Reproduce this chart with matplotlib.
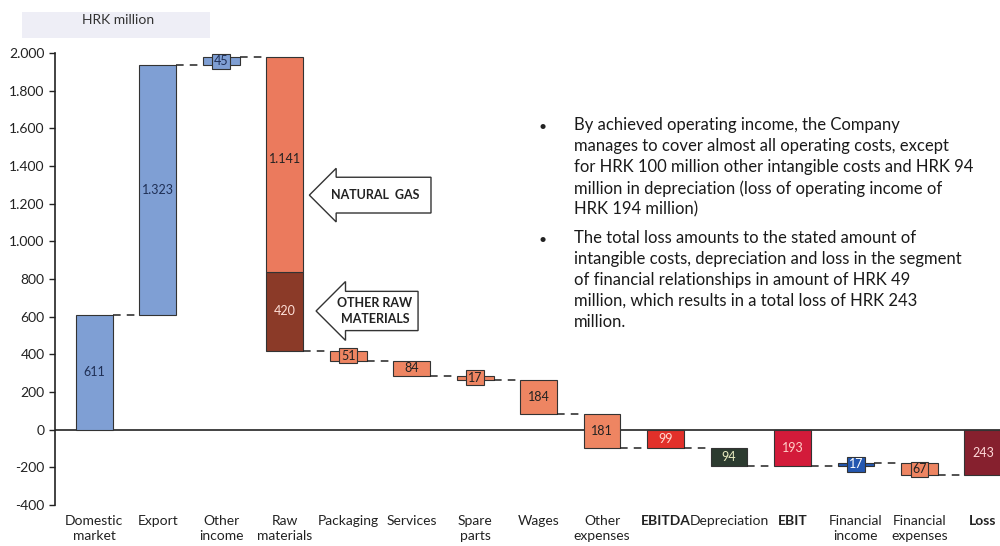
import numpy as np
import matplotlib
matplotlib.use("Agg")
import matplotlib.pyplot as plt
from matplotlib.patches import Rectangle
from matplotlib.ticker import FuncFormatter

plt.rcParams['font.family'] = ['Lato', 'DejaVu Sans']

# data (HRK million)
categories = ["Domestic\nmarket", "Export", "Other\nincome", "Raw\nmaterials", "Packaging",
              "Services", "Spare\nparts", "Wages", "Other\nexpenses", "EBITDA", "Depreciation",
              "EBIT", "Financial\nincome", "Financial\nexpenses", "Loss"]
values = [611, 1323, 45, 1561, 51, 84, 17, 184, 181, 99, 94, 193, 17, 67, 243]
kinds = ["up", "up", "up", "down", "down", "down", "down", "down", "down",
         "total", "down", "total", "up", "down", "total"]
natural_gas = 1141
other_raw = 420
labels = ["611", "1.323", "45", None, "51", "84", "17", "184", "181", "99", "94", "193", "17", "67", "243"]
colors = ["#7f9fd4", "#7f9fd4", "#7f9fd4", None, "#ee8562", "#ee8562", "#ee8562", "#ee8562",
          "#ee8562", "#e2302a", "#2c3b2f", "#d31b3a", "#2457b0", "#ee8562", "#86202e"]
label_colors = ["#1f2f55", "#1f2f55", "#1f2f55", None, "#222222", "#222222", "#222222", "#222222",
                "#222222", "#ffd8d0", "#e8ecc0", "#ffd0c8", "#ffffff", "#222222", "#ffd8d8"]
yticks = np.arange(-400, 2001, 200)

fig = plt.figure(figsize=(10, 5.46), dpi=100)
ax = fig.add_axes([0.055, 0.0751, 0.945, 0.828])

x = np.arange(len(categories))
w = 0.58
level = 0
ends = []
for i, (v, k) in enumerate(zip(values, kinds)):
    if k == "up":
        bottom, top = level, level + v
        level = top
    elif k == "down":
        bottom, top = level - v, level
        level = bottom
    else:
        bottom, top = level, 0
    ends.append(level)
    if i == 3:
        ax.bar(x[i], other_raw, width=w, bottom=bottom, color="#8b3a28", edgecolor="#333333", lw=0.8)
        ax.bar(x[i], natural_gas, width=w, bottom=bottom + other_raw, color="#eb7a5d",
               edgecolor="#333333", lw=0.8)
        ax.text(x[i], bottom + other_raw + natural_gas / 2 + 30, "1.141", ha="center", va="center",
                fontsize=9, color="#222222")
        ax.text(x[i], bottom + other_raw / 2, str(other_raw), ha="center", va="center",
                fontsize=9, color="#ffe0d8")
        continue
    ax.bar(x[i], top - bottom, width=w, bottom=bottom, color=colors[i], edgecolor="#333333", lw=0.8)
    small = (top - bottom) < 70
    ax.text(x[i], (top + bottom) / 2, labels[i], ha="center", va="center", fontsize=9,
            color=label_colors[i],
            bbox=dict(boxstyle="square,pad=0.12", fc=colors[i], ec="#333333", lw=0.8) if small else None)

# dashed connectors
for i in range(len(categories) - 1):
    ax.plot([x[i] + w / 2, x[i + 1] - w / 2], [ends[i], ends[i]], ls=(0, (5, 4)),
            color="#222222", lw=1.1, zorder=1)

ax.axhline(0, color="#222222", lw=1.2, zorder=0.5)

ax.set_xlim(-0.62, 14.27)
ax.set_ylim(-400, 2000)
ax.set_yticks(yticks)
ax.yaxis.set_major_formatter(FuncFormatter(lambda v, p: f"{int(v):,}".replace(",", ".")))
ax.tick_params(axis="y", labelsize=10, length=4, width=1, color="#222222", labelcolor="#222222")
ax.set_xticks(x)
ax.set_xticklabels(categories, fontsize=10, linespacing=1.35, color="#222222")
for t, c in zip(ax.get_xticklabels(), categories):
    if c in ("EBITDA", "EBIT", "Loss"):
        t.set_fontweight("bold")
ax.tick_params(axis="x", length=0, pad=7)
for s in ("top", "right", "bottom"):
    ax.spines[s].set_visible(False)
ax.spines["left"].set_linewidth(1.2)
ax.spines["left"].set_color("#222222")

# callout arrows
ax.text(4.42, 1245, "NATURAL  GAS", ha="center", va="center", fontsize=9, fontweight="bold",
        color="#222222", bbox=dict(boxstyle="larrow,pad=0.95", fc="white", ec="#333333", lw=1))
ax.text(4.42, 630, "OTHER RAW\nMATERIALS", ha="center", va="center", fontsize=9, fontweight="bold",
        color="#222222", linespacing=1.4,
        bbox=dict(boxstyle="larrow,pad=0.45", fc="white", ec="#333333", lw=1))

# unit label
fig.patches.append(Rectangle((0.022, 0.93), 0.188, 0.048, transform=fig.transFigure,
                             fc="#eeeef6", ec="none"))
fig.text(0.118, 0.963, "HRK million", ha="center", va="center", fontsize=10, color="#333333")

# commentary
bullets = [
    "By achieved operating income, the Company\nmanages to cover almost all operating costs, except\n"
    "for HRK 100 million other intangible costs and HRK 94\nmillion in depreciation (loss of operating income of\n"
    "HRK 194 million)",
    "The total loss amounts to the stated amount of\nintangible costs, depreciation and loss in the segment\n"
    "of financial relationships in amount of HRK 49\nmillion, which results in a total loss of HRK 243\nmillion.",
]
for yb, txt in zip([127, 240], bullets):
    fig.text(0.538, 1 - yb / 546, "•", ha="left", va="center", fontsize=10, color="#222222")
    fig.text(0.574, 1 - (yb - 10) / 546, txt, ha="left", va="top", fontsize=12,
             color="#1a1a1a", linespacing=1.38)

fig.savefig("out.png", dpi=100)
